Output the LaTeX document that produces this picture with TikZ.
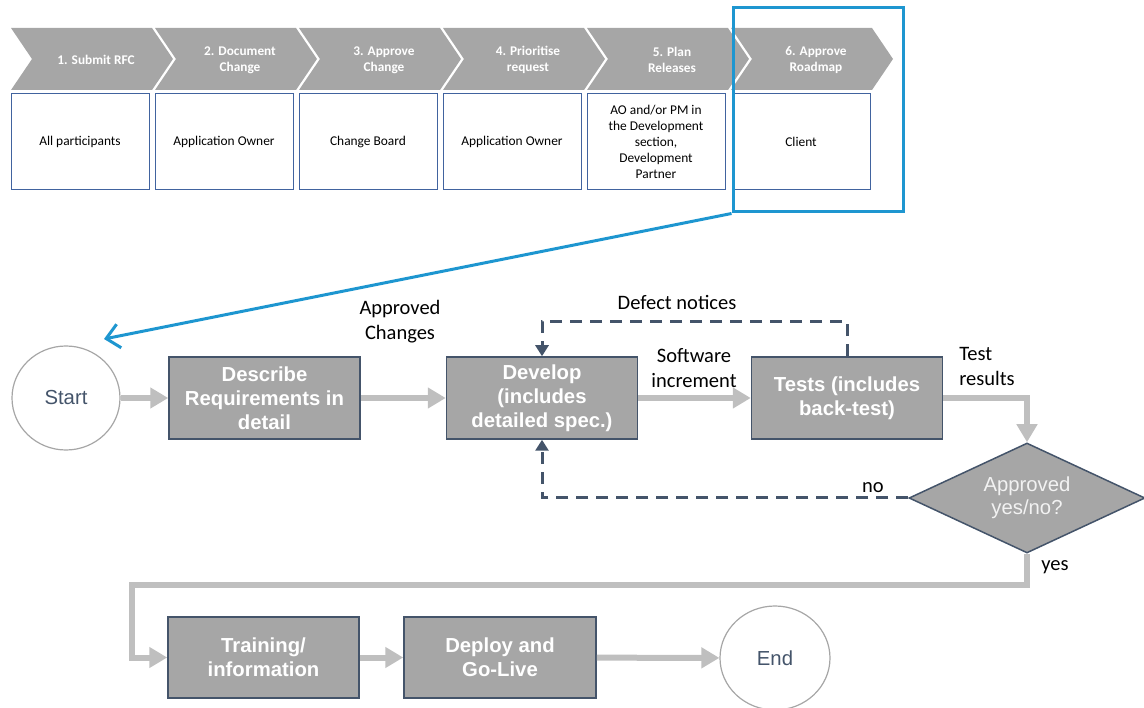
\documentclass[tikz,border=0pt]{standalone}
\usepackage{fontspec}
\setmainfont{Carlito}
\newfontfamily\arialf{Liberation Sans}
\usetikzlibrary{arrows.meta,shapes.geometric}
\definecolor{chevgray}{HTML}{A6A6A6}
\definecolor{boxgray}{HTML}{A6A6A6}
\definecolor{darkblue}{HTML}{44546A}
\definecolor{roleblue}{HTML}{41639F}
\definecolor{arrowgray}{HTML}{BFBFBF}
\definecolor{termgray}{HTML}{A6A6A6}
\definecolor{hlblue}{HTML}{1E96D0}
\definecolor{lighttxt}{HTML}{F2F2F2}
\begin{document}
\begin{tikzpicture}[x=1pt,y=-1pt,
  chev/.style={fill=chevgray,draw=none},
  chevtxt/.style={text=white,font=\fontsize{13.3}{16}\selectfont\bfseries,align=center,inner sep=0pt},
  rolebox/.style={draw=roleblue,line width=1pt,minimum width=138pt,minimum height=96pt,inner sep=0pt,align=center,font=\fontsize{13.4}{16}\selectfont},
  procbox/.style={draw=darkblue,fill=boxgray,line width=1.5pt,minimum width=191pt,minimum height=82pt,inner sep=0pt,align=center,text=white,font=\arialf\fontsize{20.3}{24}\selectfont\bfseries},
  term/.style={ellipse,draw=termgray,line width=1.2pt,minimum width=108pt,minimum height=104pt,inner sep=0pt,text=darkblue,font=\arialf\fontsize{20.3}{24}\selectfont},
  flow/.style={draw=arrowgray,line width=6pt,-{Triangle[length=18pt,width=20pt]}},
  dsh/.style={draw=darkblue,line width=3pt,dash pattern=on 12pt off 8pt,-{Triangle[length=11pt,width=13pt]}},
  lbl/.style={font=\fontsize{20.5}{25}\selectfont,align=center,inner sep=0pt}
]
\useasboundingbox (0,0) rectangle (1144,708);

% chevrons
\foreach \i/\t in {0/{1. Submit RFC},1/{2. Document\\Change},2/{3. Approve\\Change},3/{4. Prioritise\\request},4/{5. Plan\\Releases},5/{6. Approve\\Roadmap}}{
  \pgfmathsetmacro{\xo}{11+144*\i}
  \fill[chev] (\xo,28) -- ++(141,0) -- ++(21,31) -- ++(-21,31) -- ++(-141,0) -- ++(21,-31) -- cycle;
  \node[chevtxt] (c\i) at (\xo+85,60) {\t};
}
% role boxes
\node[rolebox] (b0) at (80,142) {All participants};
\node[rolebox] (b1) at (224,142) {Application Owner};
\node[rolebox] (b2) at (368,142) {Change Board};
\node[rolebox] (b3) at (512,142) {Application Owner};
\node[rolebox] (b4) at (656,142) {AO and/or PM in\\the Development\\section,\\Development\\Partner};
\node[rolebox] (b5) at (801,142) {Client};

% highlight
\node[draw=hlblue,line width=3pt,minimum width=170pt,minimum height=204pt,inner sep=0pt] (hl) at (818,110) {};
\coordinate (sa) at (104,339);
\draw[hlblue,line width=3pt,-{Straight Barb[length=13pt,width=24pt]}] (hl.south west) -- (sa);

% process
\node[term] (start) at (66,398) {Start};
\node[procbox] (desc) at (264.5,398) {Describe\\Requirements in\\detail};
\node[procbox] (dev) at (542,398) {Develop\\(includes\\detailed spec.)};
\node[procbox] (tests) at (847,398) {Tests (includes\\back-test)};
\node[diamond,shape aspect=2.15,draw=darkblue,fill=boxgray,line width=1.5pt,minimum width=236pt,minimum height=110pt,inner sep=0pt,align=center,text=lighttxt,font=\arialf\fontsize{20.3}{23}\selectfont] (dia) at (1027,498) {Approved\\yes/no?};
\node[procbox,minimum height=81pt] (train) at (263.5,657.5) {Training/\\information};
\node[procbox,minimum height=81pt,minimum width=192pt] (deploy) at (500,657.5) {Deploy and\\Go-Live};
\node[term,minimum width=110pt] (end) at (775,658) {End};

% flows
\draw[flow] (start) -- (desc);
\draw[flow] (desc) -- (dev);
\draw[flow] (dev) -- (tests);
\draw[flow] (tests.east) -| (dia.north);
\draw[flow] (dia.south) |- (132,585) |- (train.west);
\draw[flow] (train) -- (deploy);
\draw[flow] (deploy) -- (end);

\draw[dsh] (tests.north) -- ++(0,-35) -| (dev.north);
\draw[dsh] (dia.west) -| (dev.south);

% labels
\node[lbl] (l1) at (400,322) {Approved\\Changes};
\node[lbl] (l2) at (677,302) {Defect notices};
\node[lbl] (l3) at (694,368) {Software\\increment};
\node[lbl,align=left] (l4) at (987,367) {Test\\results};
\node[lbl] (l5) at (873,488) {no};
\node[lbl] (l6) at (1055,567) {yes};
\end{tikzpicture}
\end{document}
